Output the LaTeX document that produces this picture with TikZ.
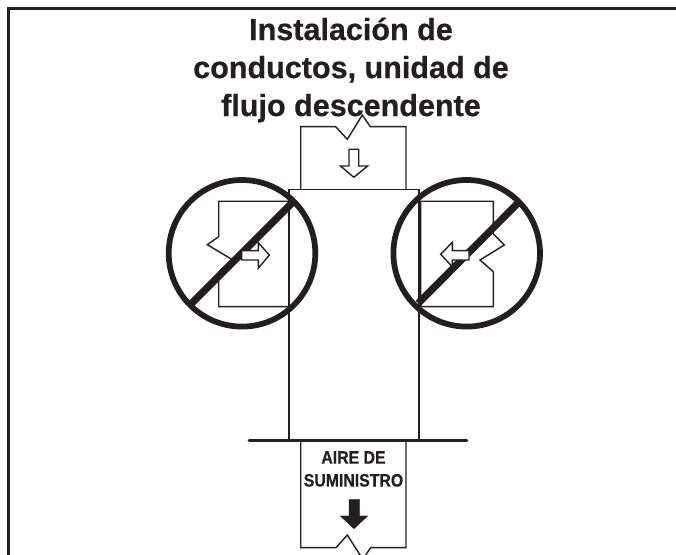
\documentclass[tikz,border=0pt]{standalone}
\usepackage{fontspec}
\setmainfont{Liberation Sans}[BoldFeatures={FakeBold=0.6}]
\newfontfamily\narrowfont{Liberation Sans}[FakeStretch=0.88,BoldFeatures={FakeStretch=0.88,FakeBold=0.5}]
\definecolor{ink}{HTML}{231F20}
\tikzset{
  thinline/.style={draw=ink,line width=1.05pt,line join=miter},
  boxline/.style={draw=ink,line width=1.4pt},
  frameline/.style={draw=ink,line width=2pt},
  prohibit/.style={draw=ink,line width=4.3pt},
  slashline/.style={draw=ink,line width=5.4pt},
  hollowarrow/.style={thinline,fill=white},
  solidarrow/.style={fill=ink,draw=ink,line width=0.3pt},
  titletext/.style={font=\bfseries\fontsize{22.9}{28.5}\selectfont,text=ink,align=center,inner sep=0pt},
  labeltext/.style={font=\narrowfont\bfseries\fontsize{13.5}{17.2}\selectfont,text=ink,align=center,inner sep=0pt}
}
\begin{document}
\begin{tikzpicture}[x=0.75pt,y=-0.75pt]
\useasboundingbox (0,0) rectangle (676,555);
\fill[white] (0,0) rectangle (676,555);
% frame
\draw[frameline] (676,8.3) -- (8.7,8.3) -- (8.7,555);
% title
\node[titletext] (title) at (351,70) {Instalación de\\conductos, unidad de\\flujo descendente};
% top duct
\draw[thinline] (300.7,189.5) -- (300.7,126.7) -- (335.7,126.7) -- (347.3,139.3) -- (362.3,115) -- (370.3,126.7) -- (406,126.7) -- (406,189.5);
\draw[hollowarrow] (349,149.3) -- (358.7,149.3) -- (358.7,166) -- (367.7,166) -- (353.8,177.3) -- (340.5,166) -- (349,166) -- cycle;
% main box
\draw[boxline] (289.3,440.7) -- (289.3,189.5) -- (418.7,189.5) -- (418.7,440.7);
\draw[draw=ink,line width=2pt,line cap=round] (249,440.7) -- (467,440.7);
% lower duct
\draw[thinline] (300.7,440.7) -- (300.7,547.7) -- (336,547.7) -- (347.3,535) -- (360.7,556);
\draw[thinline] (365,556) -- (370.7,547.7) -- (406,547.7) -- (406,440.7);
\node[labeltext] (supply) at (353.5,469) {AIRE DE\\SUMINISTRO};
\draw[solidarrow] (349,499.3) -- (359.3,499.3) -- (359.3,516) -- (367.7,516) -- (354,528.7) -- (340.3,516) -- (349,516) -- cycle;
% left side duct
\draw[thinline] (289.3,201.3) -- (218.7,201.3) -- (218.7,236.7) -- (207.3,244.7) -- (232,259.5) -- (218.7,272) -- (218.7,306.7) -- (289.3,306.7);
\draw[prohibit] (242,253.3) circle[radius=73.3];
\draw[slashline] (191.7,303.3) -- (293.3,201.7);
\draw[hollowarrow] (241.7,250.7) -- (258.3,250.7) -- (258.3,242.7) -- (269.3,255) -- (258.3,268.3) -- (258.3,260) -- (241.7,260) -- cycle;
% right side duct
\draw[thinline] (420.7,201.3) -- (493.3,201.3) -- (493.3,234) -- (504.3,245) -- (480,260) -- (493.3,271.7) -- (493.3,306.7) -- (420.7,306.7) -- cycle;
\draw[prohibit] (466.7,253.3) circle[radius=73.3];
\draw[slashline] (418.3,303.3) -- (517.7,203.3);
\draw[hollowarrow] (469,250.7) -- (452.3,250.7) -- (452.3,242.3) -- (440.7,254.3) -- (452.3,266.7) -- (452.3,260) -- (469,260) -- cycle;
\end{tikzpicture}
\end{document}
